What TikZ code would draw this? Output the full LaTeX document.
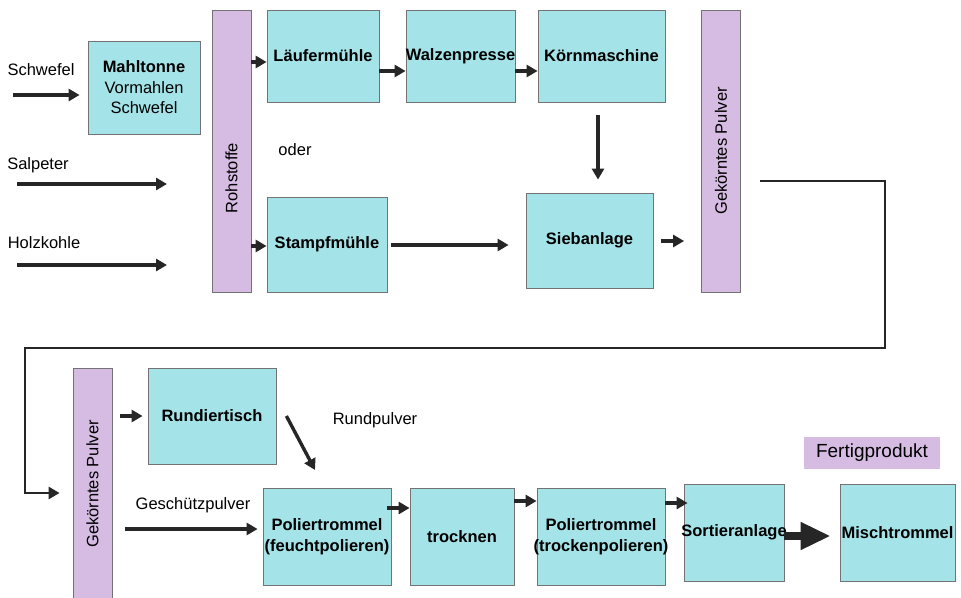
\documentclass[tikz,border=0pt]{standalone}
\usepackage{fontspec}
\setmainfont{Liberation Sans}
\usetikzlibrary{arrows.meta}
\definecolor{boxcyan}{RGB}{164,228,232}
\definecolor{barlila}{RGB}{214,188,226}
\newcommand{\ctr}[1]{\makebox[0pt]{#1}}

\begin{document}
\begin{tikzpicture}[x=1pt,y=-1pt]
                    \tikzstyle{txt}=[font=\fontsize{16.5}{20.5}\selectfont,inner sep=0pt]
                    \tikzstyle{proc}=[txt,draw=black!55,fill=boxcyan,line width=0.8pt,align=center,font=\fontsize{16.5}{20.5}\selectfont\bfseries]
                    \tikzstyle{bar}=[txt,draw=black!55,fill=barlila,line width=0.8pt,minimum width=39pt]
                    \tikzstyle{flow}=[line width=3.4pt,draw=black!85,-{Triangle[length=11pt,width=12pt]}]
                    \useasboundingbox (0,0) rectangle (961,597);
                    \node[txt] (schwtxt) at (41,70) {Schwefel};
                    \node[txt] (salptxt) at (38,165) {Salpeter};
                    \node[txt] (holztxt) at (44,243) {Holzkohle};
                    \node[proc,minimum width=112pt,minimum height=93pt] (mahl) at (144,87.5) {Mahltonne\\\mdseries Vormahlen\\\mdseries Schwefel};
                    \node[bar,minimum height=282pt] (roh) at (231.5,151) {};
                    \node[txt,rotate=90] (rohtxt) at (231.5,178) {Rohstoffe};
                    \node[proc,minimum width=112pt,minimum height=92pt] (lauf) at (323,56) {Läufermühle};
                    \node[proc,minimum width=109pt,minimum height=92pt] (walz) at (460.5,56) {\ctr{Walzenpresse}};
                    \node[proc,minimum width=127pt,minimum height=92pt] (koern) at (601.5,56) {Körnmaschine};
                    \node[txt] (oder) at (295,150) {oder};
                    \node[proc,minimum width=120pt,minimum height=95pt] (stampf) at (327,244.5) {Stampfmühle};
                    \node[proc,minimum width=127pt,minimum height=95pt] (sieb) at (589.5,240.5) {Siebanlage};
                    \node[bar,minimum height=282pt] (gp1) at (721,151) {\rotatebox{90}{Gekörntes Pulver}};
                    \node[bar,minimum height=232pt] (gp2) at (92.5,484) {\rotatebox{90}{Gekörntes Pulver}};
                    \node[proc,minimum width=128pt,minimum height=96pt] (rund) at (212,416) {Rundiertisch};
                    \node[txt] (rundtxt) at (375,420) {Rundpulver};
                    \node[txt] (geschtxt) at (193,505) {Geschützpulver};
                    \node[proc,minimum width=128pt,minimum height=97pt] (pol1) at (327,536.5) {\ctr{Poliertrommel}\\\ctr{(feuchtpolieren)}};
                    \node[proc,minimum width=104pt,minimum height=97pt] (trock) at (462,536.5) {trocknen};
                    \node[proc,minimum width=128pt,minimum height=97pt] (pol2) at (601,536.5) {\ctr{Poliertrommel}\\\ctr{(trockenpolieren)}};
                    \node[proc,minimum width=100pt,minimum height=97pt] (sort) at (734,532.5) {\ctr{Sortieranlage}};
                    \node[proc,minimum width=115pt,minimum height=97pt] (misch) at (897.5,532.5) {Mischtrommel};
                    \node[txt,fill=barlila,minimum width=136pt,minimum height=32pt,font=\fontsize{19}{22}\selectfont] (fertig) at (872,453) {Fertigprodukt};
                    \coordinate (schw) at (13,95);
                    \coordinate (salp) at (17,184);
                    \coordinate (salpE) at (167,184);
                    \coordinate (holz) at (17,265);
                    \coordinate (holzE) at (167,265);
                    \coordinate (k1) at (885,181);
                    \coordinate (k2) at (25,348);
                    \coordinate (rp) at (315,470);
                    \draw[flow,shorten >=8pt] (schw) -- (schw -| mahl.west);
                    \draw[flow] (salp) -- (salpE);
                    \draw[flow] (holz) -- (holzE);
                    \draw[flow] (roh.east |- 0,62) -- (lauf.west |- 0,62);
                    \draw[flow] (roh.east |- 0,246) -- (stampf.west |- 0,246);
                    \draw[flow] (lauf.east |- 0,71) -- (walz.west |- 0,71);
                    \draw[flow] (walz.east |- 0,71) -- (koern.west |- 0,71);
                    \draw[flow,shorten <=13pt,shorten >=13pt] (koern.south -| 598,0) -- (sieb.north -| 598,0);
                    \draw[flow,shorten <=4pt,shorten >=17pt] (stampf.east |- 0,245) -- (sieb.west |- 0,245);
                    \draw[flow,shorten <=8pt,shorten >=17pt] (sieb.east |- 0,241) -- (gp1.west |- 0,241);
                    \draw[flow,line width=2.6pt,shorten <=19pt,shorten >=13pt] (gp1.east |- k1) -- (k1) |- (k2) |- (gp2.west |- 0,493);
                    \draw[flow,shorten <=8pt,shorten >=5pt] (gp2.east |- 0,416) -- (rund.west |- 0,416);
                    \draw[flow] ([xshift=10pt]rund.east) -- (rp);
                    \draw[flow,shorten <=13pt,shorten >=5pt] (gp2.east |- 0,529) -- (pol1.west |- 0,529);
                    \draw[flow,shorten <=-4pt] (pol1.east |- 0,508) -- (trock.west |- 0,508);
                    \draw[flow] (trock.east |- 0,501) -- (pol2.west |- 0,501);
                    \draw[flow,shorten >=-4pt] (pol2.east |- 0,503) -- (sort.west |- 0,503);
                    \draw[line width=8pt,draw=black!85,-{Triangle[length=30pt,width=26pt]},shorten >=9pt] (sort.east |- 0,536) -- (misch.west |- 0,536);
                \end{tikzpicture}
\end{document}
